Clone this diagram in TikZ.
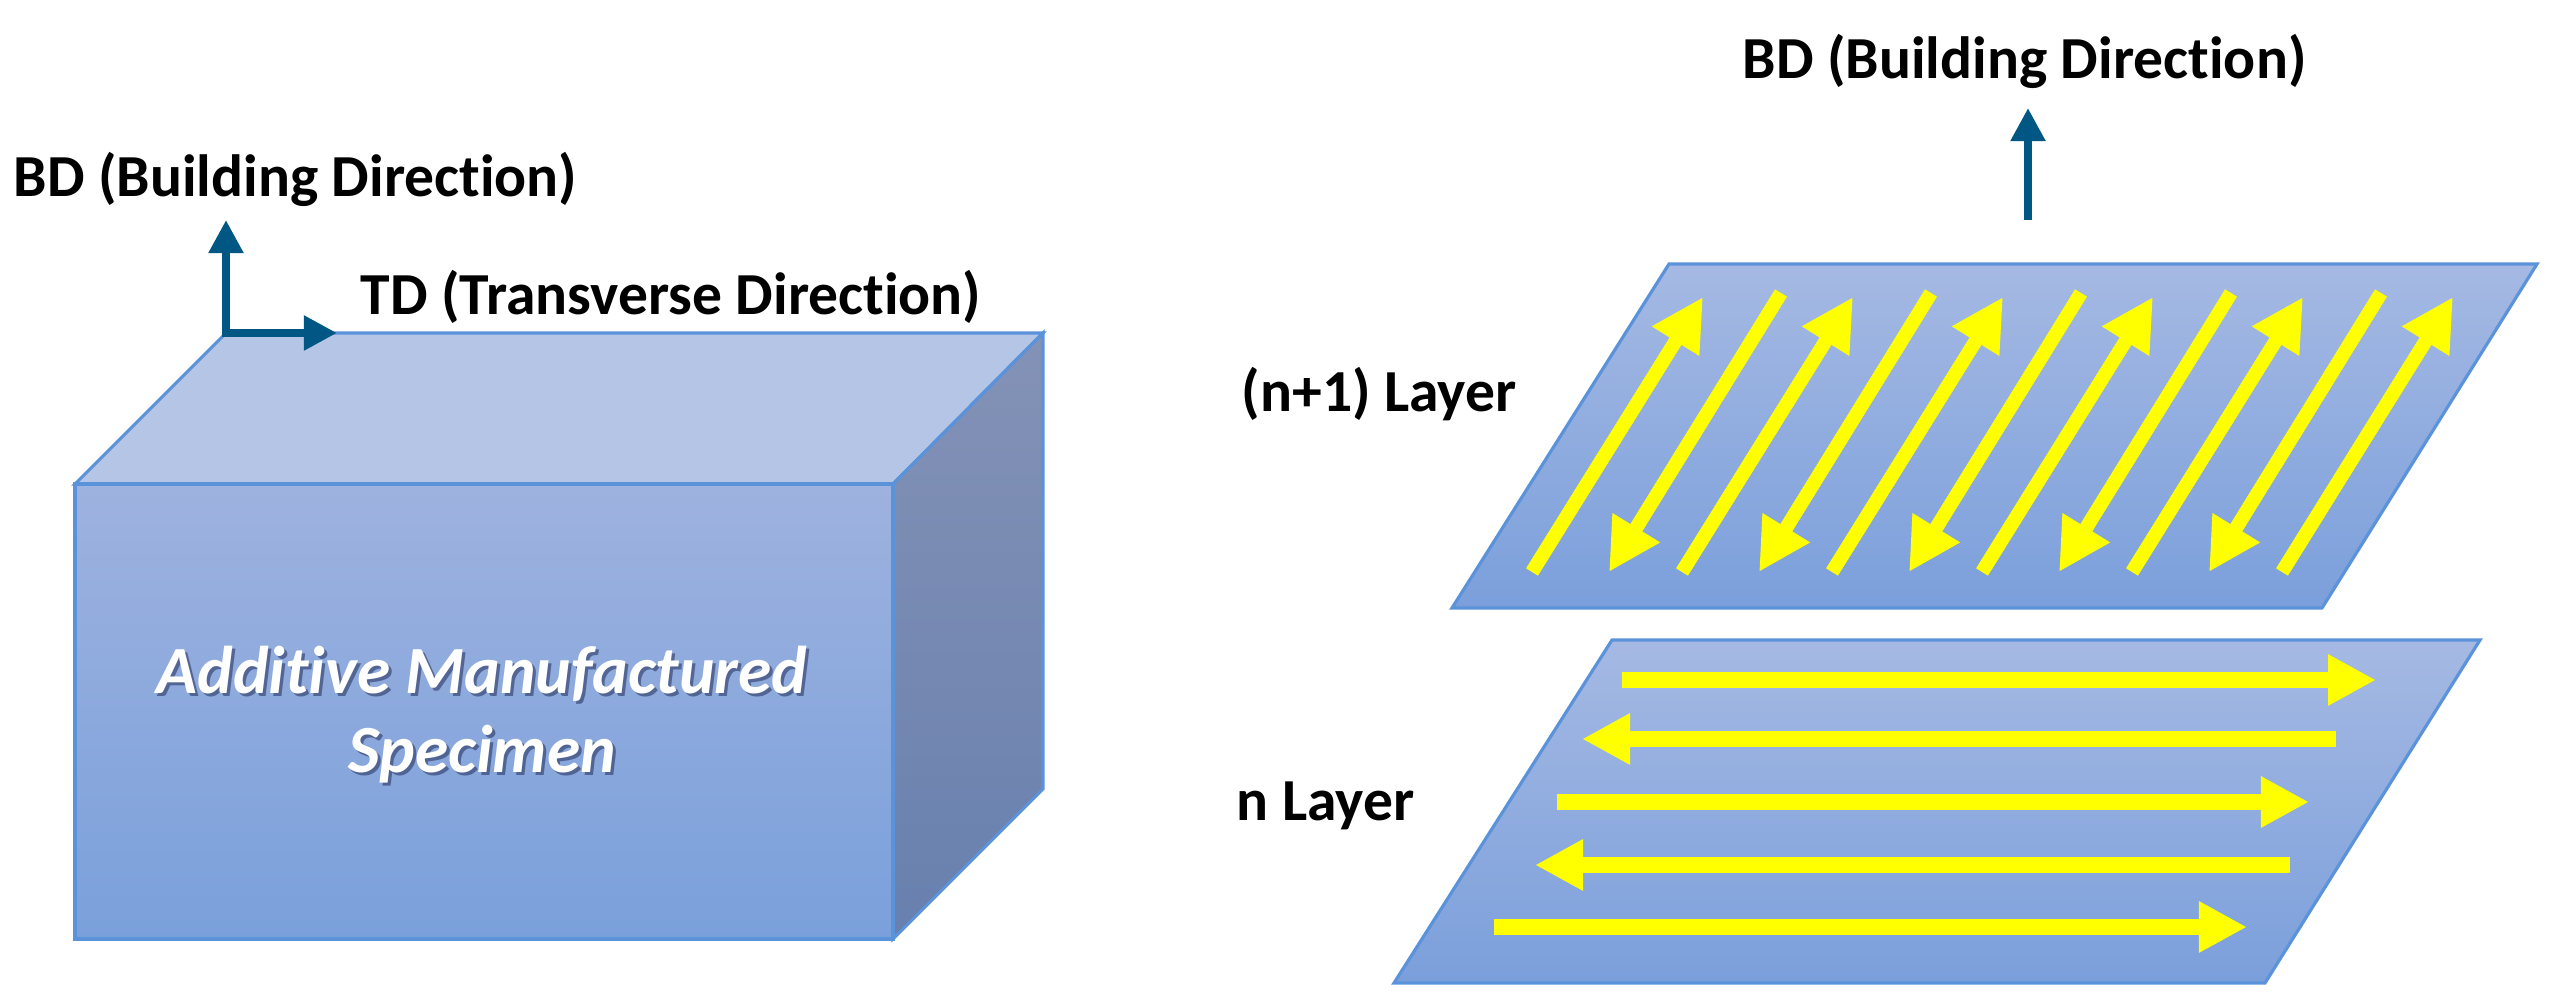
\documentclass[tikz,border=0pt]{standalone}
\usepackage{fontspec}
\setmainfont{Carlito}[Ligatures=NoCommon]
\usepackage{tikz}
\usetikzlibrary{calc, arrows.meta, positioning}
\definecolor{faceedge}{RGB}{91,147,219}
\definecolor{axisblue}{RGB}{0,87,131}
\definecolor{scanyellow}{RGB}{255,255,0}
\definecolor{frontlight}{RGB}{158,178,223}
\definecolor{frontdark}{RGB}{122,160,219}
\definecolor{toplight}{RGB}{180,197,230}
\definecolor{sidelight}{RGB}{132,146,182}
\definecolor{sidedark}{RGB}{104,128,174}
\definecolor{layerlight}{RGB}{165,185,227}
\definecolor{layerdark}{RGB}{123,159,219}
\definecolor{shadowblue}{RGB}{50,65,110}

\begin{document}
\begin{tikzpicture}[x=0.01cm, y=-0.01cm, line join=miter,
		label/.style={font=\fontsize{16.95}{20}\selectfont\bfseries, anchor=base west, inner sep=0pt, text=black},
		face/.style={draw=faceedge, line width=0.9pt},
		layerface/.style={face, top color=layerlight, bottom color=layerdark},
		axisarrow/.style={draw=axisblue, line width=0.08cm},
		scanbig/.style={-{Triangle[length=0.48cm, width=0.48cm]}, scanyellow, line width=0.16cm},
		scansmall/.style={-{Triangle[length=0.52cm, width=0.52cm]}, scanyellow, line width=0.14cm},
		bodytext/.style={font=\fontsize{19.2}{22.5}\selectfont\bfseries\itshape, align=center, inner sep=0pt}]
	\useasboundingbox (0,0) rectangle (2551,1004);

	% specimen block
	\fill[face, fill=toplight] (226,333) -- (1043,333) -- (893,484) -- (75,484) -- cycle;
	\shade[face, top color=sidelight, bottom color=sidedark] (1043,333) -- (1043,789) -- (893,939) -- (893,484) -- cycle;
	\shade[face, top color=frontlight, bottom color=frontdark] (75,484) rectangle (893,939);
	\node[bodytext, text=shadowblue, opacity=0.65] (specimenshadow) at (485,718) {Additive Manufactured\\Specimen};
	\node[bodytext, text=white] (specimen) at (482,715) {Additive Manufactured\\Specimen};

	% axes on the block
	\coordinate (corner) at (226,333);
	\coordinate (bdtip) at (226,220);
	\coordinate (tdtip) at (337,333);
	\draw[axisarrow, {Triangle[length=0.33cm, width=0.33cm]}-{Triangle[length=0.33cm, width=0.33cm]}] (bdtip) -- (corner) -- (tdtip);
	\node[label] (bdleft) at (13,197) {BD (Building Direction)};
	\node[label] (tdleft) at (360,315) {TD (Transverse Direction)};

	% n+1 layer
	\shade[layerface] (1669,264) -- (2537,264) -- (2322,608) -- (1452,608) -- cycle;
	\foreach \i in {0,...,5}
		\draw[scansmall] ({1532+150*\i},572) -- ({1703+150*\i},297);
	\foreach \i in {0,...,4}
		\draw[scansmall] ({1781+150*\i},293) -- ({1609+150*\i},572);

	% n layer
	\shade[layerface] (1612,640) -- (2480,640) -- (2265,983) -- (1394,983) -- cycle;
	\draw[scanbig] (1622,680) -- (2376,680);
	\draw[scanbig] (2336,739) -- (1582,739);
	\draw[scanbig] (1557,802) -- (2309,802);
	\draw[scanbig] (2290,865) -- (1535,865);
	\draw[scanbig] (1494,927) -- (2247,927);

	% labels on the right
	\node[label] (bdright) at (1742,79) {BD (Building Direction)};
	\coordinate (bdbase) at (2028,220);
	\coordinate (bdtop) at (2028,108);
	\draw[axisarrow, -{Triangle[length=0.33cm, width=0.33cm]}] (bdbase) -- (bdtop);
	\node[label] (upperlayer) at (1241,412) {(n+1) Layer};
	\node[label] (lowerlayer) at (1236,821) {n Layer};
\end{tikzpicture}
\end{document}
